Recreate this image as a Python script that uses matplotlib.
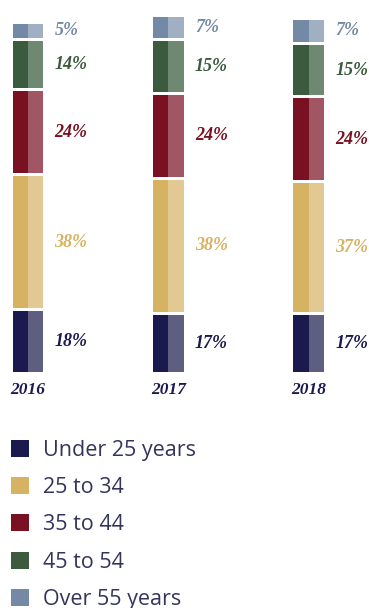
import numpy as np
import matplotlib.pyplot as plt
from matplotlib.patches import Patch

years = ['2016', '2017', '2018']
groups = ['Under 25 years', '25 to 34', '35 to 44', '45 to 54', 'Over 55 years']
under25 = [18, 17, 17]
age25_34 = [38, 38, 37]
age35_44 = [24, 24, 24]
age45_54 = [14, 15, 15]
over55 = [5, 7, 7]

dark = ['#1b1a4e', '#d6b363', '#7a1122', '#3b5a3e', '#7489a5']
light = ['#5d5e80', '#e2c994', '#a05663', '#6f8872', '#a0b0c2']

fig = plt.figure(figsize=(3.69, 6.08), dpi=100)
ax = fig.add_axes([0, 236 / 608, 1, 372 / 608])
ax.set_xlim(-0.2, 2.431)
ax.set_ylim(0, 104.8)
ax.axis('off')

x = np.arange(len(years))
half = 0.11
gap = 0.85
bottom = np.zeros(len(years))
for vals, dc, lc in zip([under25, age25_34, age35_44, age45_54, over55], dark, light):
    vals = np.array(vals, dtype=float)
    ax.bar(x - half / 2, vals - gap, half, bottom=bottom, color=dc, linewidth=0)
    ax.bar(x + half / 2, vals - gap, half, bottom=bottom, color=lc, linewidth=0)
    for xi, b, v in zip(x, bottom, vals):
        ax.annotate(f'{int(v)}%', (xi + half, b + (v - gap) / 2), xytext=(8, 0),
                    textcoords='offset points', va='center', ha='left', color=dc,
                    fontsize=13, fontweight='bold', fontstyle='italic',
                    family='Liberation Serif')
    bottom += vals

for xi, yr in zip(x, years):
    ax.annotate(yr, (xi, 0), xytext=(0, -13), textcoords='offset points',
                ha='center', va='center', color='#1b1a4e', fontsize=12.5,
                fontweight='bold', fontstyle='italic', family='Liberation Serif')

handles = [Patch(facecolor=c, linewidth=0) for c in dark]
fig.legend(handles, groups, loc='upper left', bbox_to_anchor=(-0.022, 0.309),
           frameon=False, handlelength=0.84, handleheight=0.84,
           handletextpad=0.62, labelspacing=0.76, labelcolor='#34345e',
           prop={'family': 'Open Sans', 'size': 15.5})

fig.savefig('out.png', dpi=100)
